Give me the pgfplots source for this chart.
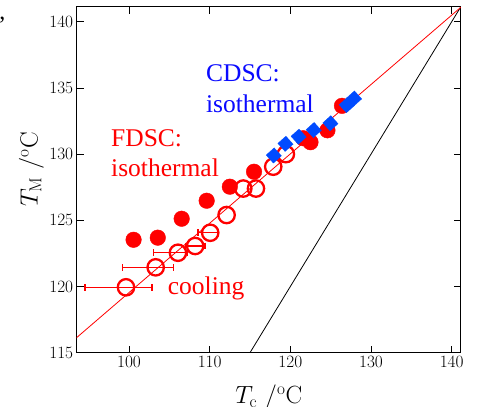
\documentclass[border=0pt]{standalone}
\usepackage[no-math]{fontspec}
\usepackage{pgfplots}
\pgfplotsset{compat=1.18}
\newfontfamily\timesfont{Liberation Serif}
\definecolor{cdscblue}{RGB}{0,75,255}
\definecolor{txtblue}{RGB}{10,10,255}
\definecolor{pured}{RGB}{255,0,0}
\begin{document}
\begin{tikzpicture}
\begin{axis}[
  scale only axis, width=384.1pt, height=345.9pt,
  xmin=93.52, xmax=141.13, ymin=115, ymax=141.13,
  xtick={100,110,...,140}, ytick={115,120,...,140},
  minor tick num=0,
  tick align=inside, major tick length=7pt,
  tick style={black, line width=0.8pt},
  axis line style={line width=0.9pt},
  ticklabel style={font=\fontsize{16.5}{19}\selectfont},
  xlabel={$T_{\mathrm{c}}\ /^{\mathrm{o}}\mathrm{C}$},
  ylabel={$T_{\mathrm{M}}\ /^{\mathrm{o}}\mathrm{C}$},
  xlabel style={font=\fontsize{26}{30}\selectfont, at={(axis description cs:0.5,-0.148)}, anchor=base},
  ylabel style={font=\fontsize{26}{30}\selectfont, at={(axis description cs:-0.118,0.53)}, anchor=center},
  errbar/.style={draw=pured, color=pured, line width=1.4pt, mark=|, mark size=3.3pt, mark options={draw=pured, line width=1.4pt}, forget plot},
]
% equilibrium line Tm = Tc
\addplot[black, line width=0.8pt] coordinates {(115,115) (141.3,141.3)};
% Hoffman-Weeks line
\addplot[pured, line width=0.8pt] coordinates {(93.4,116.08) (141.3,141.18)};
% cooling x error bars (Tc - err, Tc + err)
\addplot[errbar] coordinates {(94.53,119.94) (102.83,119.94)};
\addplot[errbar] coordinates {(99.21,121.45) (105.51,121.45)};
\addplot[errbar] coordinates {(103.07,122.55) (107.27,122.55)};
\addplot[errbar] coordinates {(107.0,123.06) (109.4,123.06)};
\addplot[errbar] coordinates {(108.57,124.06) (111.07,124.06)};
% cooling (open circles)
\addplot[pured, only marks, mark=o, mark size=8.2pt,
  mark options={fill=white, draw=pured, line width=2.3pt}]
  coordinates {
  (99.63,119.94) (103.31,121.45) (106.07,122.55) (108.2,123.06)
  (110.07,124.06) (112.1,125.4) (114.17,127.4) (115.74,127.4)
  (117.88,129.05) (119.45,130.0)
  };
% FDSC isothermal (filled circles)
\addplot[pured, only marks, mark=*, mark size=7.8pt, mark options={fill=pured, draw=pured, line width=0.4pt}]
  coordinates {
  (100.57,123.53) (103.57,123.69) (106.53,125.12) (109.63,126.48)
  (112.5,127.54) (115.5,128.67) (121.6,131.2) (122.5,130.9)
  (124.6,131.8) (126.4,133.65)
  };
% CDSC isothermal (blue diamonds)
\addplot[cdscblue, only marks, mark=square*, mark size=5.4pt,
  mark options={fill=cdscblue, draw=cdscblue, line width=0.3pt, rotate=42}]
  coordinates {
  (117.95,129.9) (119.4,130.78) (121.03,131.32) (122.9,131.82)
  (124.97,132.33) (127.0,133.7) (127.9,134.2)
  };
\node[anchor=base west, inner sep=0, text=txtblue, font=\timesfont\fontsize{25.5}{30}\selectfont] at (axis cs:109.54,135.47) {CDSC:};
\node[anchor=base west, inner sep=0, text=txtblue, font=\timesfont\fontsize{25.5}{30}\selectfont] at (axis cs:109.54,133.13) {isothermal};
\node[anchor=base west, inner sep=0, text=pured, font=\timesfont\fontsize{25.5}{30}\selectfont] at (axis cs:97.77,130.56) {FDSC:};
\node[anchor=base west, inner sep=0, text=pured, font=\timesfont\fontsize{25.5}{30}\selectfont] at (axis cs:97.77,128.3) {isothermal};
\node[anchor=base west, inner sep=0, text=pured, font=\timesfont\fontsize{25.5}{30}\selectfont] at (axis cs:104.8,119.36) {cooling};
\end{axis}
\node[anchor=base west, inner sep=0, font=\timesfont\fontsize{24}{28}\selectfont] at (-77.5pt,333pt) {,};
\pgfresetboundingbox
\useasboundingbox (-76.7pt,-54.3pt) rectangle (400.3pt,352.7pt);
\end{tikzpicture}
\end{document}
